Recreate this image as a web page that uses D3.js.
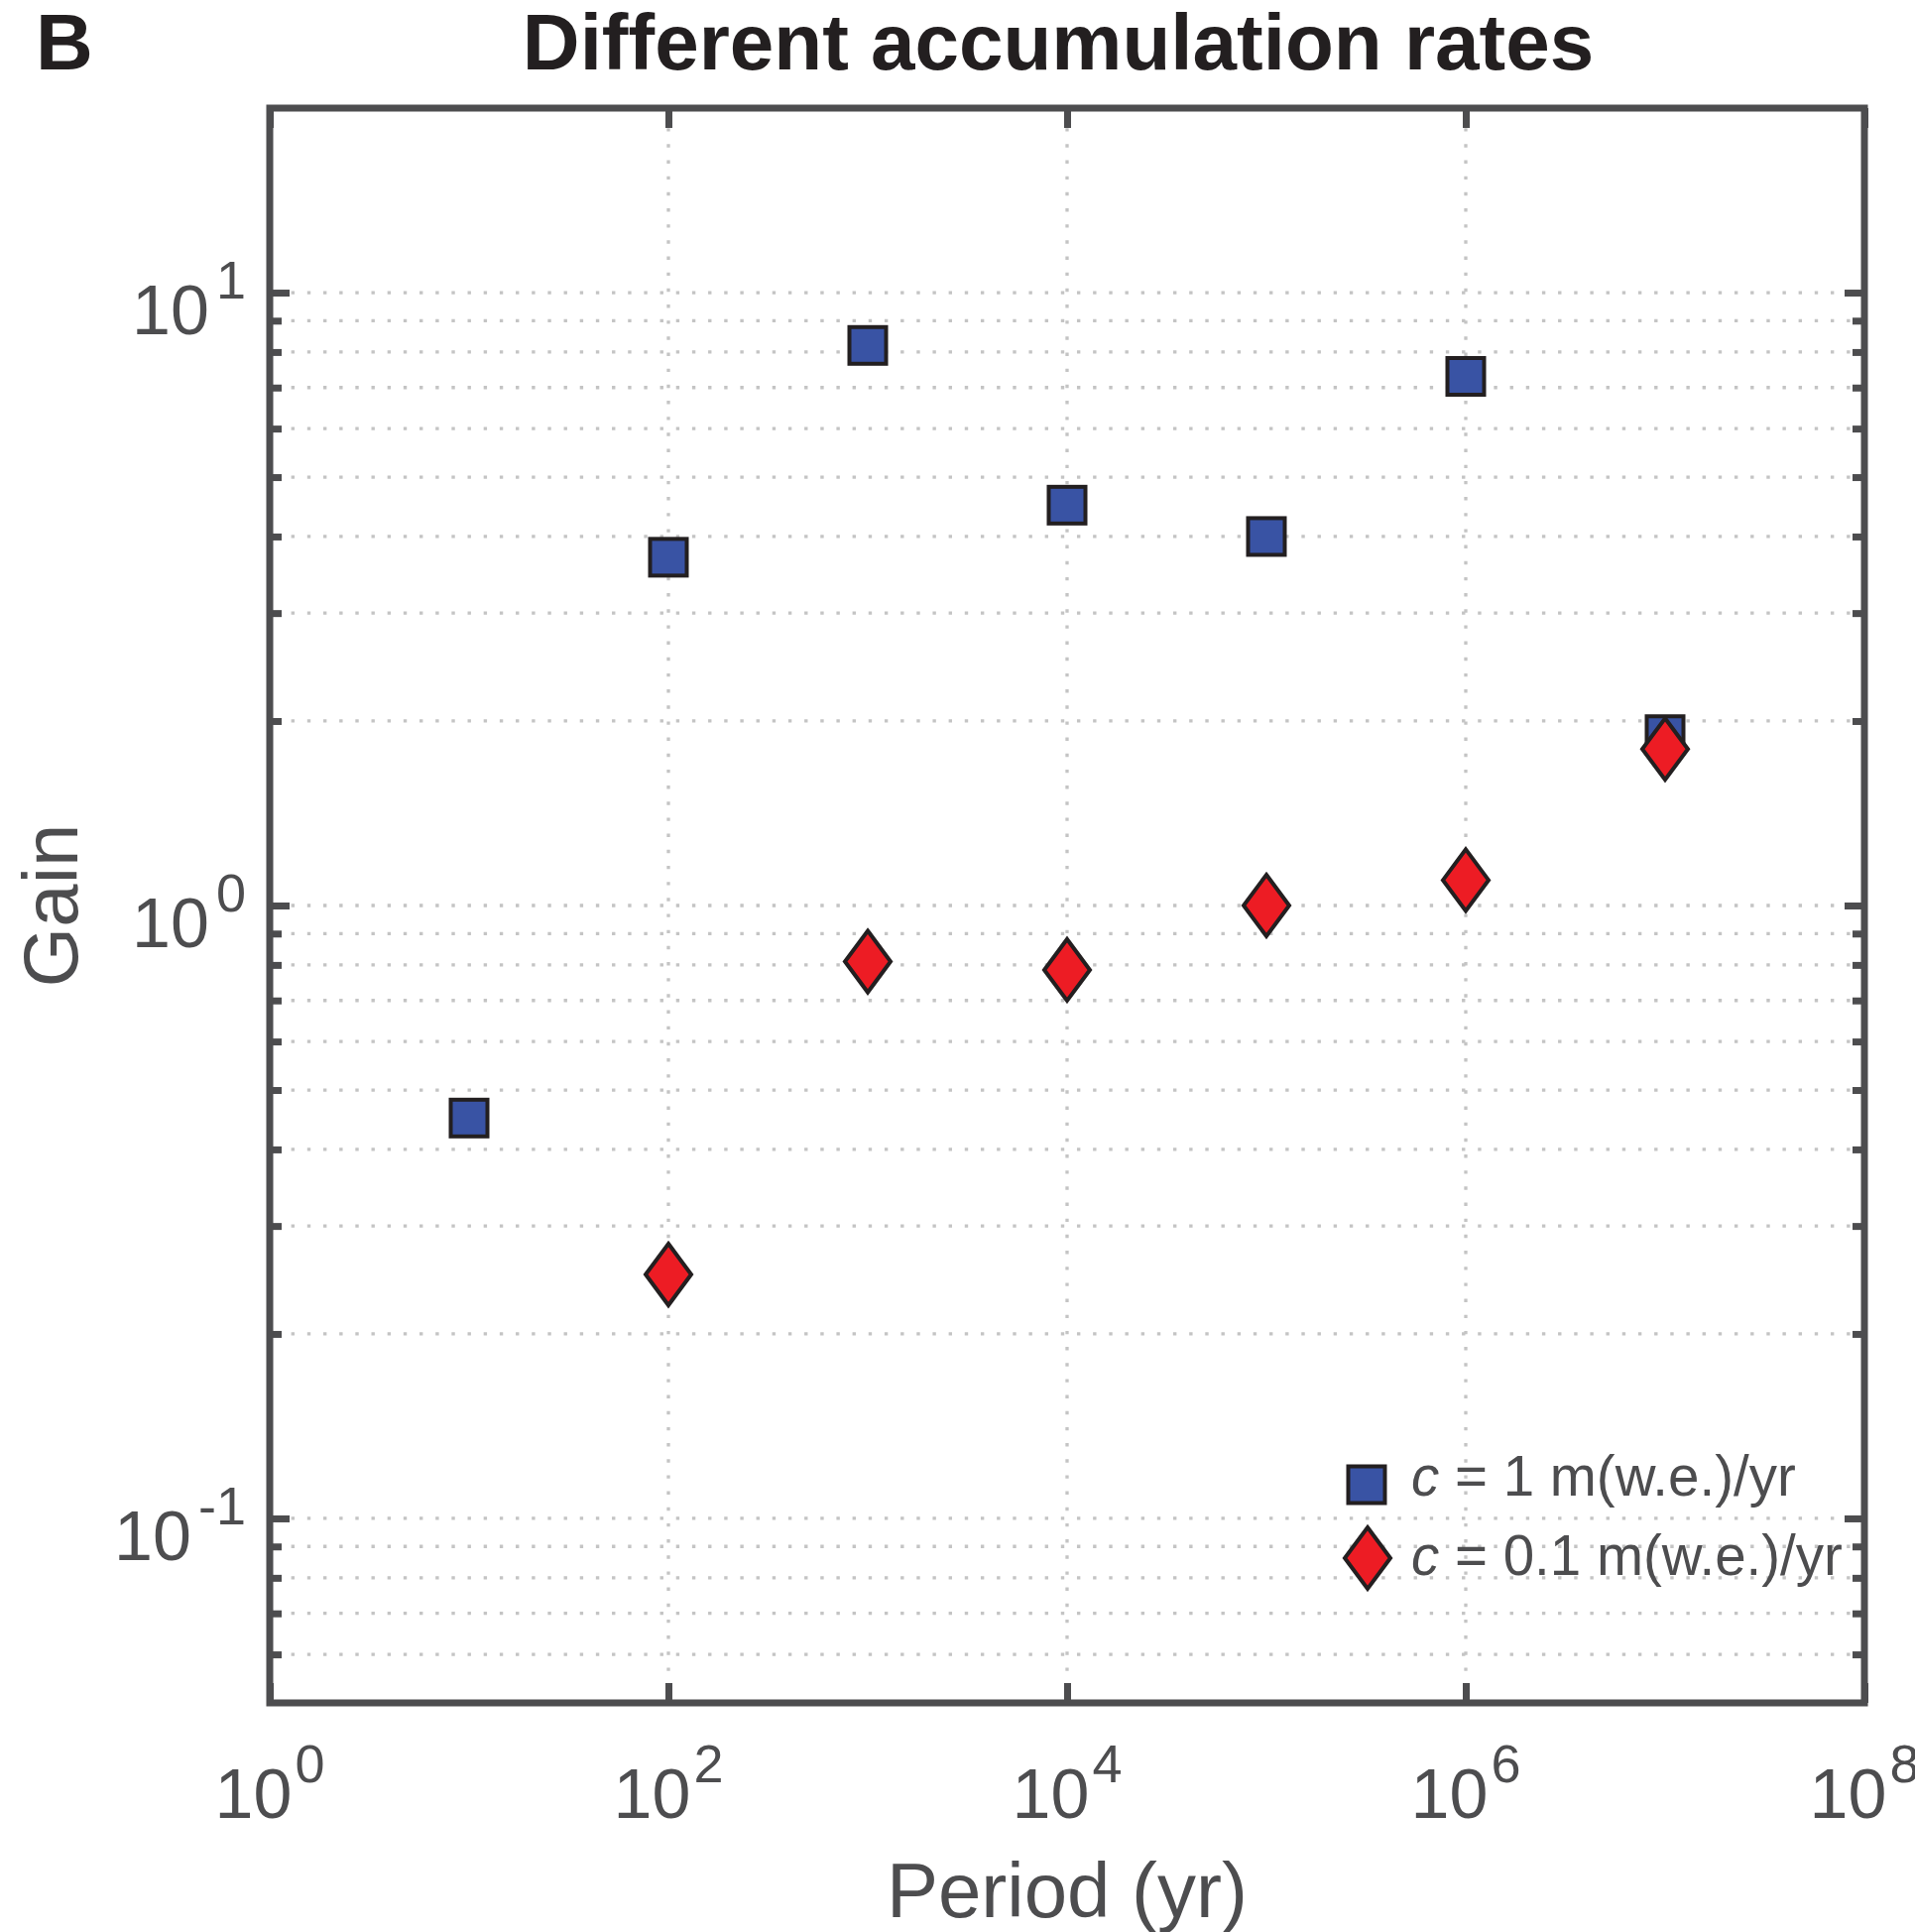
<!DOCTYPE html>
<html>
<head>
<meta charset="utf-8">
<script src="https://cdn.jsdelivr.net/npm/d3@7"></script>
<style>
  html, body { margin: 0; padding: 0; background: #ffffff; }
  svg { display: block; }
</style>
</head>
<body>
<svg id="chart" width="1931" height="1948"></svg>
<script>
// Gain of the firn response versus forcing period, for two accumulation rates.
const periodsHigh = [1e1, 1e2, 1e3, 1e4, 1e5, 1e6, 1e7];
const gainHigh    = [0.45, 3.70, 8.2, 4.5, 4.0, 7.3, 1.9];
const periodsLow  = [1e2, 1e3, 1e4, 1e5, 1e6, 1e7];
const gainLow     = [0.25, 0.81, 0.785, 1.0, 1.1, 1.8];

const legendRates = ["1", "0.1"];

const xTickValues    = [1e0, 1e2, 1e4, 1e6, 1e8];
const xTickExponents = ["0", "2", "4", "6", "8"];
const xGridValues    = [1e2, 1e4, 1e6];
const yMajorValues   = [0.1, 1, 10];
const yTickExponents = ["-1", "0", "1"];
const yMinorValues   = [0.06, 0.07, 0.08, 0.09,
                        0.2, 0.3, 0.4, 0.5, 0.6, 0.7, 0.8, 0.9,
                        2, 3, 4, 5, 6, 7, 8, 9];

const xDomain = [1, 1e8];
const yDomain = [0.05, 20];

// layout
const L = 272, R = 1880, T = 109, B = 1717;
const axisColor = "#4d4d4f";
const textColor = "#4d4d4f";
const gridColor = "#c4c4c4";
const markerStroke = "#231f20";
const blue = "#3953a4";
const red = "#ed1c24";
const fontFamily = "'Liberation Sans', Arial, Helvetica, sans-serif";

const svg = d3.select("#chart");

const x = d3.scaleLog().domain(xDomain).range([L, R]);
const y = d3.scaleLog().domain(yDomain).range([B, T]);

// dotted grid
const grid = svg.append("g").attr("class", "grid");
grid.selectAll("line.hgrid")
  .data(yMajorValues.concat(yMinorValues))
  .join("line")
  .attr("class", "hgrid")
  .attr("x1", L).attr("x2", R)
  .attr("y1", d => y(d)).attr("y2", d => y(d))
  .attr("stroke", gridColor)
  .attr("stroke-width", 3.3)
  .attr("stroke-dasharray", "3.4,12.77")
  .attr("stroke-dashoffset", 10.7);

grid.selectAll("line.vgrid")
  .data(xGridValues)
  .join("line")
  .attr("class", "vgrid")
  .attr("x1", d => x(d)).attr("x2", d => x(d))
  .attr("y1", T).attr("y2", B)
  .attr("stroke", gridColor)
  .attr("stroke-width", 3.3)
  .attr("stroke-dasharray", "3.4,12.77")
  .attr("stroke-dashoffset", 12.2);

// ticks on all four sides, pointing inward
const majorLen = 20, minorLen = 12, tickWidth = 7;
function styleTicks(g) {
  g.select(".domain").remove();
  g.selectAll(".tick line")
    .attr("stroke", axisColor)
    .attr("stroke-width", tickWidth);
  g.selectAll(".tick text").remove();
}

svg.append("g").attr("transform", `translate(0,${B})`)
  .call(d3.axisBottom(x).tickValues(xTickValues).tickSizeInner(-majorLen).tickSizeOuter(0).tickFormat(""))
  .call(styleTicks);
svg.append("g").attr("transform", `translate(0,${T})`)
  .call(d3.axisTop(x).tickValues(xTickValues).tickSizeInner(-majorLen).tickSizeOuter(0).tickFormat(""))
  .call(styleTicks);
svg.append("g").attr("transform", `translate(${L},0)`)
  .call(d3.axisLeft(y).tickValues(yMajorValues).tickSizeInner(-majorLen).tickSizeOuter(0).tickFormat(""))
  .call(styleTicks);
svg.append("g").attr("transform", `translate(${L},0)`)
  .call(d3.axisLeft(y).tickValues(yMinorValues).tickSizeInner(-minorLen).tickSizeOuter(0).tickFormat(""))
  .call(styleTicks);
svg.append("g").attr("transform", `translate(${R},0)`)
  .call(d3.axisRight(y).tickValues(yMajorValues).tickSizeInner(-majorLen).tickSizeOuter(0).tickFormat(""))
  .call(styleTicks);
svg.append("g").attr("transform", `translate(${R},0)`)
  .call(d3.axisRight(y).tickValues(yMinorValues).tickSizeInner(-minorLen).tickSizeOuter(0).tickFormat(""))
  .call(styleTicks);

// axes box
svg.append("rect")
  .attr("x", L).attr("y", T)
  .attr("width", R - L).attr("height", B - T)
  .attr("fill", "none")
  .attr("stroke", axisColor)
  .attr("stroke-width", 7)
  .attr("stroke-linejoin", "miter");

// tick labels: 10 with a superscript exponent
const xLabels = svg.append("g").attr("font-family", fontFamily).attr("fill", textColor);
xTickValues.forEach((v, i) => {
  const t = xLabels.append("text")
    .attr("x", x(v)).attr("y", B + 116)
    .attr("text-anchor", "middle")
    .attr("font-size", 70);
  t.append("tspan").text("10");
  t.append("tspan").attr("dx", 3).attr("dy", -36).attr("font-size", 54).text(xTickExponents[i]);
});

const yLabels = svg.append("g").attr("font-family", fontFamily).attr("fill", textColor);
yMajorValues.forEach((v, i) => {
  const t = yLabels.append("text")
    .attr("x", 248).attr("y", y(v) + 42)
    .attr("text-anchor", "end")
    .attr("font-size", 70);
  t.append("tspan").text("10");
  t.append("tspan").attr("dx", 7).attr("dy", -36).attr("font-size", 54).text(yTickExponents[i]);
});

// axis titles
svg.append("text")
  .attr("x", (L + R) / 2).attr("y", 1933)
  .attr("text-anchor", "middle")
  .attr("font-family", fontFamily)
  .attr("font-size", 78)
  .attr("fill", textColor)
  .text("Period (yr)");

svg.append("text")
  .attr("transform", `translate(78,${(T + B) / 2}) rotate(-90)`)
  .attr("text-anchor", "middle")
  .attr("font-family", fontFamily)
  .attr("font-size", 78)
  .attr("fill", textColor)
  .text("Gain");

// title and panel letter
svg.append("text")
  .attr("x", 1067).attr("y", 70)
  .attr("text-anchor", "middle")
  .attr("font-family", fontFamily)
  .attr("font-weight", "bold")
  .attr("font-size", 80)
  .attr("fill", "#231f20")
  .text("Different accumulation rates");

svg.append("text")
  .attr("x", 36).attr("y", 70)
  .attr("font-family", fontFamily)
  .attr("font-weight", "bold")
  .attr("font-size", 80)
  .attr("fill", "#231f20")
  .text("B");

// marker shapes
const sq = 37;           // square side (stroke centre)
const dw = 23, dh = 31;  // diamond half-width / half-height
const diamondPath = `M0,${-dh}L${dw},0L0,${dh}L${-dw},0Z`;

const highData = periodsHigh.map((p, i) => ({ p, g: gainHigh[i] }));
const lowData  = periodsLow.map((p, i) => ({ p, g: gainLow[i] }));

svg.append("g").selectAll("rect")
  .data(highData)
  .join("rect")
  .attr("x", d => x(d.p) - sq / 2)
  .attr("y", d => y(d.g) - sq / 2)
  .attr("width", sq).attr("height", sq)
  .attr("fill", blue)
  .attr("stroke", markerStroke)
  .attr("stroke-width", 4);

svg.append("g").selectAll("path")
  .data(lowData)
  .join("path")
  .attr("transform", d => `translate(${x(d.p)},${y(d.g)})`)
  .attr("d", diamondPath)
  .attr("fill", red)
  .attr("stroke", markerStroke)
  .attr("stroke-width", 4)
  .attr("stroke-linejoin", "miter");

// legend
const legend = svg.append("g");
legend.append("rect")
  .attr("x", 1378 - sq / 2).attr("y", 1497 - sq / 2)
  .attr("width", sq).attr("height", sq)
  .attr("fill", blue)
  .attr("stroke", markerStroke)
  .attr("stroke-width", 4);
legend.append("path")
  .attr("transform", "translate(1379,1571)")
  .attr("d", diamondPath)
  .attr("fill", red)
  .attr("stroke", markerStroke)
  .attr("stroke-width", 4);

[1508, 1588].forEach((by, i) => {
  const t = legend.append("text")
    .attr("x", 1423).attr("y", by)
    .attr("font-family", fontFamily)
    .attr("font-size", 56.5)
    .attr("fill", textColor)
    .attr("xml:space", "preserve");
  t.append("tspan").attr("font-style", "italic").text("c");
  t.append("tspan").text(` = ${legendRates[i]} m(w.e.)/yr`);
});
</script>
</body>
</html>
